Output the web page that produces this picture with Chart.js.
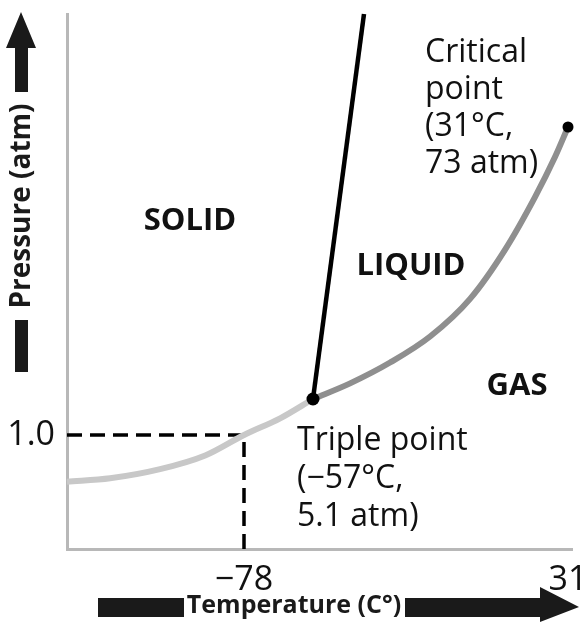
<!DOCTYPE html>
<html>
<head>
<meta charset="utf-8">
<script src="https://cdn.jsdelivr.net/npm/chart.js@4.4.1/dist/chart.umd.min.js"></script>
<style>
html, body { margin: 0; padding: 0; background: #fff; }
#wrap { width: 581px; height: 622px; }
</style>
</head>
<body>
<div id="wrap"><canvas id="phaseChart" width="581" height="622"></canvas></div>
<script>
// Phase diagram of CO2 (schematic, axes are not to scale)

// sublimation curve (solid <-> gas), up to the triple point
const sublimationT = [-140, -124.9, -107.4, -91.6, -78, -67, -57];
const sublimationP = [0.59, 0.62, 0.70, 0.82, 1.0, 2.9, 5.1];
// vaporization curve (liquid <-> gas), triple point to critical point
const boilingT = [-57, -44.2, -30.4, -16.6, -2.8, 9.3, 19.6, 26.5, 31];
const boilingP = [5.1, 9.0, 14.2, 20.7, 30.1, 42.4, 55.5, 65.5, 73];
// melting curve (solid <-> liquid)
const meltingT = [-57, -39.4];
const meltingP = [5.1, 100];
// triple point and critical point
const pointT = [-57, 31];
const pointP = [5.1, 73];
// dashed guide to the 1 atm sublimation point
const guideT = [-140, -78, -78];
const guideP = [1, 1, 0];

const xTicks = [-78, 31];
const xTickLabels = ['\u221278', '31'];
const yTicks = [1];
const yTickLabels = ['1.0'];

const regionNames = ['SOLID', 'LIQUID', 'GAS'];

// Linear scale that is stretched piece by piece, since the diagram is not to scale
class SchematicScale extends Chart.LinearScale {
    toDecimal(v) {
        const vals = this.options.breakValues;
        const fr = this.options.breakFractions;
        let i = 1;
        while (i < vals.length - 1 && v > vals[i]) i++;
        return fr[i - 1] + (v - vals[i - 1]) / (vals[i] - vals[i - 1]) * (fr[i] - fr[i - 1]);
    }
    getPixelForValue(value) {
        return value === null ? NaN : this.getPixelForDecimal(this.toDecimal(value));
    }
    getValueForPixel(pixel) {
        const d = this.getDecimalForPixel(pixel);
        const vals = this.options.breakValues;
        const fr = this.options.breakFractions;
        let i = 1;
        while (i < fr.length - 1 && d > fr[i]) i++;
        return vals[i - 1] + (d - fr[i - 1]) / (fr[i] - fr[i - 1]) * (vals[i] - vals[i - 1]);
    }
}
SchematicScale.id = 'schematic';
SchematicScale.defaults = {};
Chart.register(SchematicScale);

function toPoints(xs, ys) {
    return xs.map((x, i) => ({ x: x, y: ys[i] }));
}

const tickFont = { family: '"Open Sans", sans-serif', size: 34 };

// Text, region names and the arrow axis titles
const labelPlugin = {
    id: 'phaseLabels',
    afterDraw: function(chart) {
        const ctx = chart.ctx;
        ctx.save();
        ctx.fillStyle = '#111';

        // region names
        ctx.font = 'bold 31px "Open Sans"';
        ctx.textAlign = 'center';
        ctx.textBaseline = 'middle';
        const regionPos = [[190, 221], [411, 266], [517, 386]];
        regionNames.forEach(function(name, i) {
            ctx.fillText(name, regionPos[i][0], regionPos[i][1]);
        });

        // point notes
        ctx.font = '32px "Open Sans"';
        ctx.textAlign = 'left';
        ctx.textBaseline = 'alphabetic';
        ['Critical', 'point', '(31\u00B0C,', '73 atm)'].forEach(function(line, i) {
            ctx.fillText(line, 425, 62 + i * 37);
        });
        ['Triple point', '(\u221257\u00B0C,', '5.1 atm)'].forEach(function(line, i) {
            ctx.fillText(line, 297, 450 + i * 38);
        });

        // y axis title with arrow
        ctx.fillStyle = '#1a1a1a';
        ctx.beginPath();
        ctx.moveTo(21, 12);
        ctx.lineTo(36, 48);
        ctx.lineTo(28, 48);
        ctx.lineTo(28, 92);
        ctx.lineTo(15, 92);
        ctx.lineTo(15, 48);
        ctx.lineTo(6, 48);
        ctx.closePath();
        ctx.fill();
        ctx.fillRect(15, 320, 13, 52);

        ctx.save();
        ctx.translate(22, 206);
        ctx.rotate(-Math.PI / 2);
        ctx.font = 'bold 28px "Open Sans"';
        ctx.textAlign = 'center';
        ctx.textBaseline = 'middle';
        ctx.fillText('Pressure (atm)', 0, 0);
        ctx.restore();

        // x axis title with arrow
        ctx.fillRect(98, 598, 86, 19);
        ctx.beginPath();
        ctx.moveTo(405, 598);
        ctx.lineTo(540, 598);
        ctx.lineTo(540, 587);
        ctx.lineTo(579, 607);
        ctx.lineTo(540, 622);
        ctx.lineTo(540, 617);
        ctx.lineTo(405, 617);
        ctx.closePath();
        ctx.fill();
        ctx.font = 'bold 25px "Open Sans"';
        ctx.textAlign = 'center';
        ctx.textBaseline = 'middle';
        ctx.fillText('Temperature (C\u00B0)', 294, 606);

        ctx.restore();
    }
};

const ctx = document.getElementById('phaseChart').getContext('2d');
const phaseChart = new Chart(ctx, {
    type: 'scatter',
    data: {
        datasets: [{
            label: 'Triple and critical point',
            data: toPoints(pointT, pointP),
            pointRadius: [6.5, 5.5],
            pointBackgroundColor: '#000',
            pointBorderWidth: 0,
            clip: false
        }, {
            label: 'Melting',
            data: toPoints(meltingT, meltingP),
            showLine: true,
            borderColor: '#000',
            borderWidth: 4.5,
            pointRadius: 0,
            clip: false
        }, {
            label: 'Vaporization',
            data: toPoints(boilingT, boilingP),
            showLine: true,
            borderColor: '#8f8f8f',
            borderWidth: 6,
            cubicInterpolationMode: 'monotone',
            pointRadius: 0,
            clip: false
        }, {
            label: 'Sublimation',
            data: toPoints(sublimationT, sublimationP),
            showLine: true,
            borderColor: '#c8c8c8',
            borderWidth: 6,
            cubicInterpolationMode: 'monotone',
            pointRadius: 0,
            clip: false
        }, {
            label: '1 atm',
            data: toPoints(guideT, guideP),
            showLine: true,
            borderColor: '#000',
            borderWidth: 3.5,
            borderDash: [15, 8],
            pointRadius: 0,
            clip: false
        }]
    },
    options: {
        responsive: false,
        animation: false,
        events: [],
        layout: { padding: { left: 0, top: 14, right: 9, bottom: 0 } },
        plugins: {
            legend: { display: false },
            tooltip: { enabled: false }
        },
        scales: {
            x: {
                type: 'schematic',
                min: -140,
                max: 32.3,
                breakValues: [-140, -78, -57, 31, 32.3],
                breakFractions: [0, 0.3505, 0.4871, 0.9921, 1],
                grid: { display: false },
                border: { display: true, color: '#b8b8b8', width: 3 },
                ticks: {
                    font: tickFont,
                    color: '#111',
                    padding: 3,
                    maxRotation: 0,
                    autoSkip: false,
                    callback: function(value) { return xTickLabels[xTicks.indexOf(value)]; }
                },
                afterBuildTicks: function(scale) {
                    scale.ticks = xTicks.map(v => ({ value: v }));
                },
                afterFit: function(scale) {
                    scale.height = 73;
                    scale.paddingLeft = 0;
                    scale.paddingRight = 0;
                }
            },
            y: {
                type: 'schematic',
                min: 0,
                max: 100,
                breakValues: [0, 1, 5.1, 73, 100],
                breakFractions: [0, 0.2131, 0.2804, 0.7888, 1],
                grid: { display: false },
                border: { display: true, color: '#b8b8b8', width: 3 },
                ticks: {
                    font: tickFont,
                    color: '#111',
                    padding: 4,
                    autoSkip: false,
                    callback: function(value) { return yTickLabels[yTicks.indexOf(value)]; }
                },
                afterBuildTicks: function(scale) {
                    scale.ticks = yTicks.map(v => ({ value: v }));
                },
                afterFit: function(scale) {
                    scale.width = 67;
                    scale.paddingTop = 0;
                    scale.paddingBottom = 0;
                }
            }
        }
    },
    plugins: [labelPlugin]
});
</script>
</body>
</html>
